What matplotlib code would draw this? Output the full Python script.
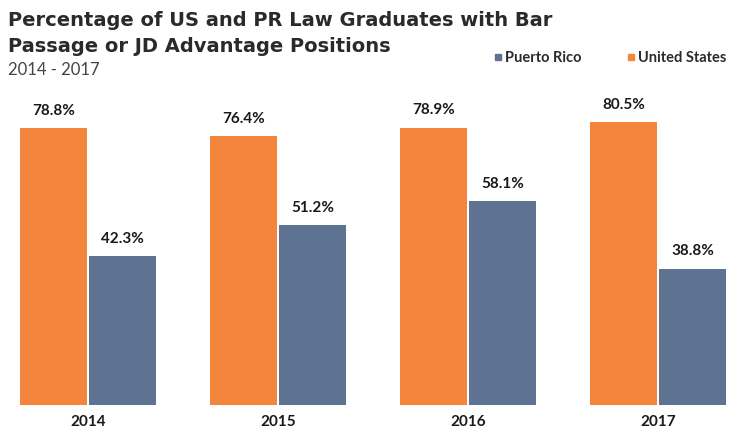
import numpy as np
import matplotlib.pyplot as plt

years = ["2014", "2015", "2016", "2017"]
united_states = [78.8, 76.4, 78.9, 80.5]
puerto_rico = [42.3, 51.2, 58.1, 38.8]

orange = "#F3863C"
slate = "#5E7291"
plt.rcParams['font.family'] = ['Lato', 'DejaVu Sans']

fig = plt.figure(figsize=(7.32, 4.39), dpi=100)
ax = fig.add_axes([0, 33/439, 1, 316/439])

x = np.arange(len(years))
w = 0.353
gap = 0.006
us_bars = ax.bar(x - w/2 - gap, united_states, w, color=orange)
pr_bars = ax.bar(x + w/2 + gap, puerto_rico, w, color=slate)

for bars, vals in [(us_bars, united_states), (pr_bars, puerto_rico)]:
    for b, v in zip(bars, vals):
        ax.text(b.get_x() + b.get_width()/2, v + 3.2, f"{v}%",
                ha="center", va="bottom", fontsize=11, fontweight="bold", color="#1a1a1a")

ax.set_xlim(-0.463, 3.389)
ax.set_ylim(0, 89.9)
ax.axis("off")

for i, yr in enumerate(years):
    ax.text(x[i], -4.5, yr, ha="center", va="center", fontsize=11,
            fontweight="bold", color="#1a1a1a")

title_font = dict(family="DejaVu Sans", fontsize=14, fontweight="bold", color="#2a2a2a", va="center")
fig.text(8/732, 1 - 21/439, "Percentage of US and PR Law Graduates with Bar", **title_font)
fig.text(8/732, 1 - 46/439, "Passage or JD Advantage Positions", **title_font)
fig.text(8/732, 1 - 70/439, "2014 - 2017", fontsize=12, color="#444444", va="center")

# legend
fig.patches.append(plt.Rectangle((495/732, 1 - 61/439), 6/732, 6/439,
                                 transform=fig.transFigure, color=slate))
fig.text(505/732, 1 - 58/439, "Puerto Rico", fontsize=10.5, fontweight="bold",
         color="#2a2a2a", va="center")
fig.patches.append(plt.Rectangle((628/732, 1 - 61/439), 6/732, 6/439,
                                 transform=fig.transFigure, color=orange))
fig.text(638/732, 1 - 58/439, "United States", fontsize=10.5, fontweight="bold",
         color="#2a2a2a", va="center")

fig.savefig("out.png", dpi=100)
